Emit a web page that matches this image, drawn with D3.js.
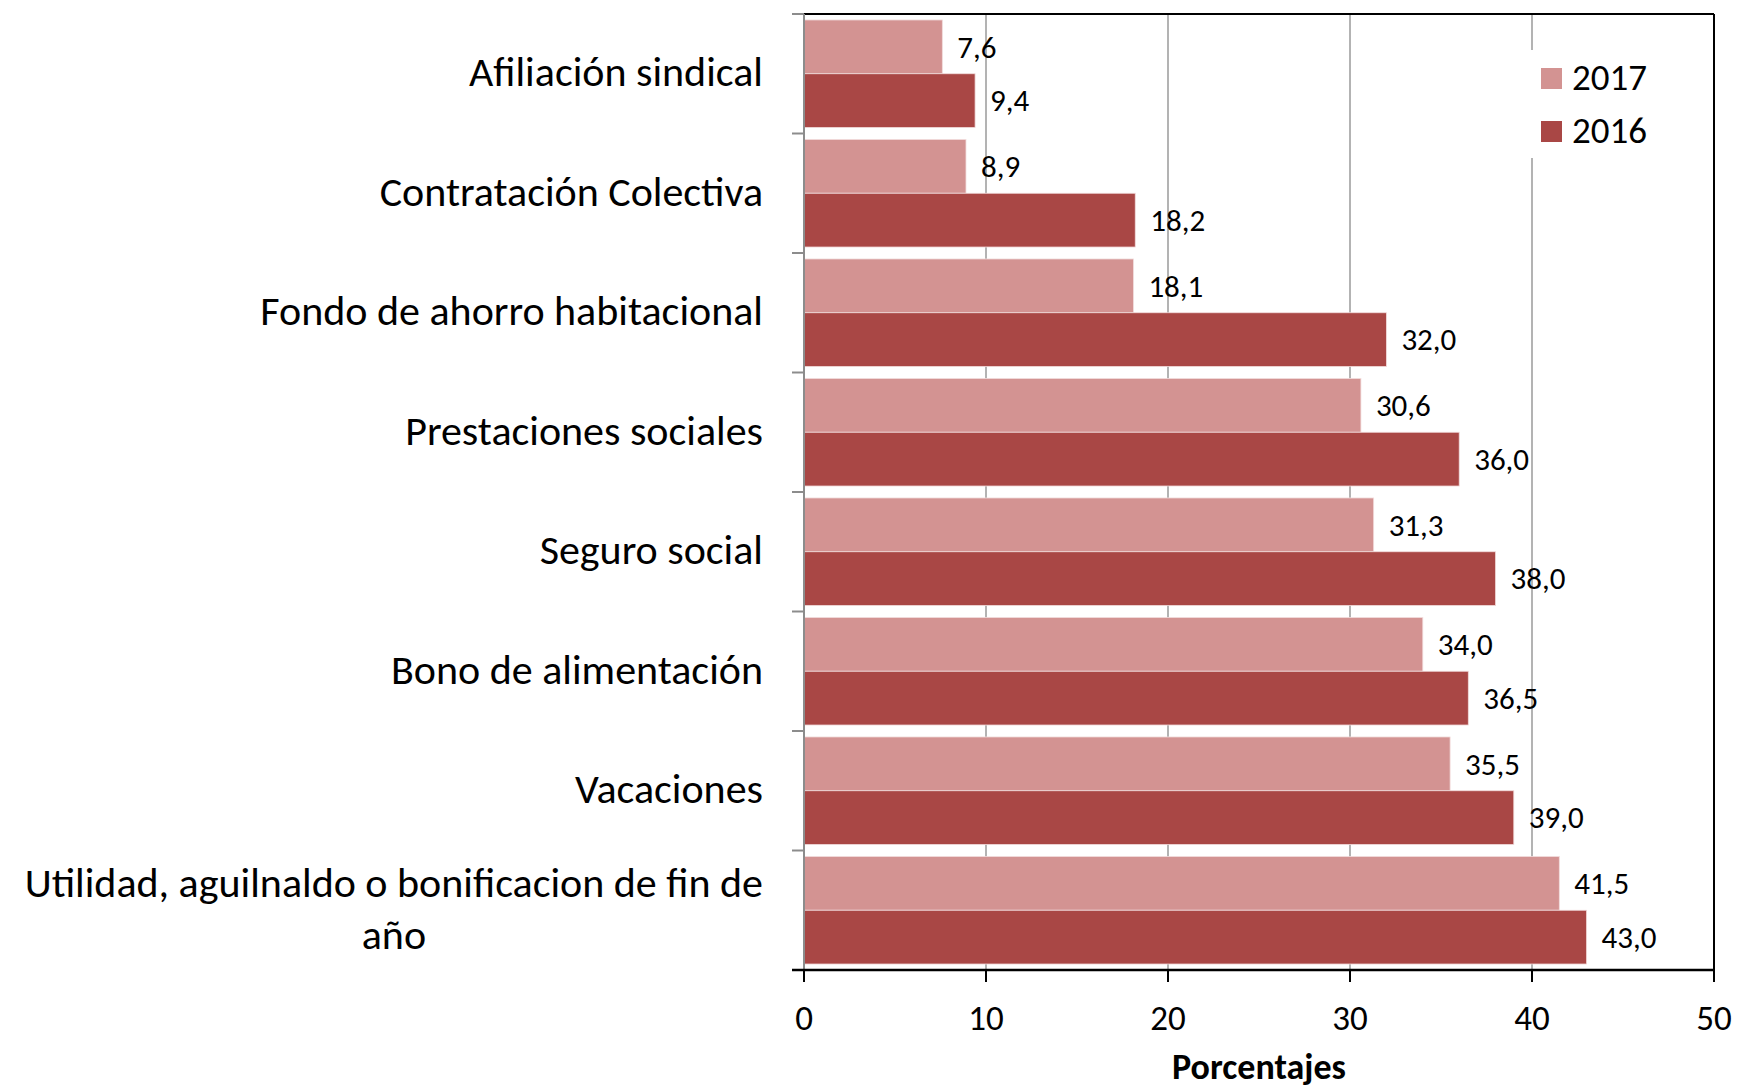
<!DOCTYPE html>
<html>
<head>
<meta charset="utf-8">
<script src="https://cdn.jsdelivr.net/npm/d3@7"></script>
<style>
  body { margin: 0; background: #fff; }
  text { font-family: Carlito, Calibri, "Open Sans", "Noto Sans", sans-serif; fill: #000; }
</style>
</head>
<body>
<div id="chart"></div>
<script>
// data
var categories = [
  "Afiliación sindical",
  "Contratación Colectiva",
  "Fondo de ahorro habitacional",
  "Prestaciones sociales",
  "Seguro social",
  "Bono de alimentación",
  "Vacaciones",
  "Utilidad, aguilnaldo o bonificacion de fin de año"
];
var seriesNames = ["2017", "2016"];
var values2017 = [7.6, 8.9, 18.1, 30.6, 31.3, 34.0, 35.5, 41.5];
var values2016 = [9.4, 18.2, 32.0, 36.0, 38.0, 36.5, 39.0, 43.0];
var xTicks = [0, 10, 20, 30, 40, 50];
var colors = ["#d39392", "#a94745"];

var W = 1737, H = 1089;
var margin = {top: 14, right: 23, bottom: 119, left: 804},
    width = W - margin.left - margin.right,
    height = H - margin.top - margin.bottom;

var svg = d3.select("#chart").append("svg")
    .attr("width", W)
    .attr("height", H)
  .append("g")
    .attr("transform", "translate(" + margin.left + "," + margin.top + ")");

var x = d3.scaleLinear().domain([0, 50]).range([0, width]);
var y = d3.scaleBand().domain(categories).range([0, height]).paddingInner(0.1).paddingOuter(0.05);
var ySub = d3.scaleBand().domain(seriesNames).range([0, y.bandwidth()]);

var rows = categories.map(function(c, i) {
  return {cat: c, vals: [{s: "2017", v: values2017[i]}, {s: "2016", v: values2016[i]}]};
});

// gridlines
svg.append("g")
  .selectAll("line")
  .data(xTicks.slice(1, -1))
  .enter().append("line")
    .attr("x1", d => x(d)).attr("x2", d => x(d))
    .attr("y1", 0).attr("y2", height)
    .attr("stroke", "#9a9a9a")
    .attr("stroke-width", 1.5);

// bars
var groups = svg.selectAll(".cat")
  .data(rows)
  .enter().append("g")
    .attr("class", "cat")
    .attr("transform", d => "translate(0," + y(d.cat) + ")");

groups.selectAll("rect")
  .data(d => d.vals)
  .enter().append("rect")
    .attr("x", 0)
    .attr("y", d => ySub(d.s))
    .attr("width", d => x(d.v))
    .attr("height", ySub.bandwidth())
    .attr("fill", (d, i) => colors[i])
    .attr("stroke", "#f2dcdc")
    .attr("stroke-width", 0.8);

groups.selectAll("text.val")
  .data(d => d.vals)
  .enter().append("text")
    .attr("class", "val")
    .attr("x", d => x(d.v) + 15)
    .attr("y", d => ySub(d.s) + ySub.bandwidth() / 2)
    .attr("dy", "0.35em")
    .style("font-size", "31px")
    .text(d => d.v.toFixed(1).replace(".", ","));

// plot border (top and right)
svg.append("line").attr("x1", 0).attr("x2", width).attr("y1", 0).attr("y2", 0)
  .attr("stroke", "#000").attr("stroke-width", 2);
svg.append("line").attr("x1", width).attr("x2", width).attr("y1", 0).attr("y2", height)
  .attr("stroke", "#000").attr("stroke-width", 2);

// left axis: gray line with ticks at category boundaries
var bounds = d3.range(categories.length + 1).map(i => i * height / categories.length);
var yAxis = svg.append("g");
yAxis.append("line").attr("x1", 0).attr("x2", 0).attr("y1", 0).attr("y2", height)
  .attr("stroke", "#8c8c8c").attr("stroke-width", 2);
yAxis.selectAll("line.tk")
  .data(bounds)
  .enter().append("line")
    .attr("class", "tk")
    .attr("x1", -12).attr("x2", 0)
    .attr("y1", d => d).attr("y2", d => d)
    .attr("stroke", "#8c8c8c").attr("stroke-width", 2);

// category labels, wrapped if too long
var maxLabel = 760;
yAxis.selectAll("text.cat")
  .data(categories)
  .enter().append("text")
    .attr("class", "cat")
    .attr("text-anchor", "middle")
    .style("font-size", "42px")
    .each(function(d) {
      var t = d3.select(this);
      var words = d.split(" "), lines = [], cur = "";
      words.forEach(function(w) {
        var test = cur ? cur + " " + w : w;
        t.text(test);
        if (t.node().getComputedTextLength() > maxLabel && cur) { lines.push(cur); cur = w; }
        else cur = test;
      });
      lines.push(cur);
      t.text(null);
      var widths = lines.map(function(l) { t.text(l); return t.node().getComputedTextLength(); });
      t.text(null);
      var wmax = d3.max(widths);
      var cx = -41 - wmax / 2;
      var cy = y(d) + y.bandwidth() / 2;
      var lh = 52;
      lines.forEach(function(l, i) {
        t.append("tspan")
          .attr("x", cx)
          .attr("y", cy + (i - (lines.length - 1) / 2) * lh - 2)
          .attr("dy", "0.35em")
          .text(l);
      });
    });

// bottom axis
var xAxis = svg.append("g").attr("transform", "translate(0," + height + ")");
xAxis.append("line").attr("x1", -12).attr("x2", width).attr("y1", 0).attr("y2", 0)
  .attr("stroke", "#000").attr("stroke-width", 2.5);
xAxis.selectAll("line.tk")
  .data(xTicks)
  .enter().append("line")
    .attr("class", "tk")
    .attr("x1", d => x(d)).attr("x2", d => x(d))
    .attr("y1", 0).attr("y2", 12)
    .attr("stroke", "#000").attr("stroke-width", 2);
xAxis.selectAll("text")
  .data(xTicks)
  .enter().append("text")
    .attr("x", d => x(d))
    .attr("y", 48)
    .attr("dy", "0.35em")
    .attr("text-anchor", "middle")
    .style("font-size", "35px")
    .text(d => d);

svg.append("text")
  .attr("x", width / 2)
  .attr("y", height + 96)
  .attr("dy", "0.35em")
  .attr("text-anchor", "middle")
  .style("font-size", "36px")
  .style("font-weight", "bold")
  .text("Porcentajes");

// legend
var lg = svg.append("g").attr("transform", "translate(" + (1525 - margin.left) + "," + (50 - margin.top) + ")");
lg.append("rect").attr("width", 140).attr("height", 108).attr("fill", "#fff");
var li = lg.selectAll("g.item")
  .data(seriesNames)
  .enter().append("g")
    .attr("class", "item")
    .attr("transform", (d, i) => "translate(16," + (18 + i * 53) + ")");
li.append("rect").attr("width", 21).attr("height", 21).attr("fill", (d, i) => colors[i]);
li.append("text").attr("x", 31).attr("y", 9).attr("dy", "0.35em")
  .style("font-size", "37px").text(d => d);
</script>
</body>
</html>
